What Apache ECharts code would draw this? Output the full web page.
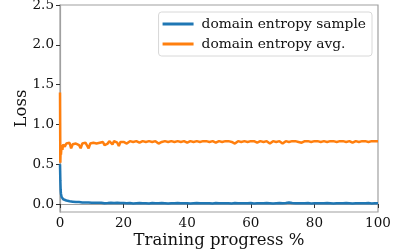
<!DOCTYPE html>
<html><head><meta charset="utf-8">
<script src="https://cdn.jsdelivr.net/npm/echarts@6/dist/echarts.min.js"></script>
<style>html,body{margin:0;padding:0;background:#fff}#c{width:399px;height:249px}</style>
</head><body><div id="c"></div>
<script>
const progress = [0,0.1,0.2,0.3,0.5,0.75,1,1.5,2,2.5,3,3.5,4,4.5,5,5.5,6,6.5,7,7.5,8,8.5,9,9.5,10,10.5,11,11.5,12,12.5,13,13.5,14,14.5,15,15.5,16,16.5,17,17.5,18,18.5,19,19.5,20,
21,22,23,24,25,26,27,28,29,30,
31,32,33,34,35,36,37,38,39,40,
41,42,43,44,45,46,47,48,49,50,
51,52,53,54,55,56,57,58,59,60,
61,62,63,64,65,66,67,68,69,70,
71,72,73,74,75,76,77,78,79,80,
81,82,83,84,85,86,87,88,89,90,
91,92,93,94,95,96,97,98,99,100];
const sampleLoss = [0.50,0.30,0.18,0.13,0.09,0.07,0.06,
0.05,0.045,0.04,0.035,0.03,0.03,0.025,0.025,0.02,0.025,
0.02,0.02,0.015,0.02,0.015,0.02,0.015,0.015,0.02,0.015,
0.012,0.015,0.012,0.015,0.012,0.01,0.015,0.012,0.01,0.015,
0.01,0.012,0.01,0.015,0.01,0.012,0.01,0.012,
0.010,0.012,0.008,0.010,0.012,0.009,0.011,0.008,0.012,0.010,
0.009,0.012,0.010,0.008,0.011,0.010,0.012,0.009,0.010,0.011,
0.008,0.010,0.012,0.009,0.010,0.011,0.010,0.008,0.012,0.010,
0.009,0.011,0.010,0.008,0.012,0.010,0.009,0.011,0.010,0.012,
0.008,0.010,0.011,0.009,0.012,0.010,0.008,0.011,0.012,0.010,
0.014,0.020,0.012,0.010,0.009,0.011,0.010,0.012,0.008,0.010,
0.011,0.009,0.010,0.012,0.010,0.008,0.011,0.010,0.009,0.012,
0.010,0.008,0.011,0.010,0.009,0.010,0.012,0.008,0.010,0.009];
const avgLoss = [1.40,0.52,0.70,0.62,0.74,0.68,0.75,
0.72,0.76,0.74,0.77,0.70,0.75,0.77,0.76,0.78,0.74,
0.70,0.76,0.78,0.77,0.75,0.70,0.76,0.78,0.77,0.79,
0.76,0.78,0.77,0.79,0.78,0.74,0.72,0.76,0.79,0.78,
0.75,0.79,0.78,0.77,0.73,0.78,0.79,0.78,
0.76,0.79,0.78,0.79,0.77,0.79,0.78,0.79,0.78,0.79,
0.76,0.78,0.79,0.78,0.79,0.78,0.79,0.78,0.79,0.77,
0.79,0.78,0.79,0.78,0.79,0.79,0.78,0.79,0.77,0.79,
0.78,0.79,0.79,0.78,0.76,0.79,0.78,0.79,0.78,0.79,
0.79,0.77,0.79,0.78,0.79,0.76,0.79,0.78,0.79,0.76,
0.79,0.78,0.79,0.79,0.78,0.77,0.79,0.79,0.78,0.79,
0.79,0.78,0.79,0.78,0.79,0.79,0.78,0.79,0.79,0.78,
0.79,0.77,0.79,0.78,0.79,0.79,0.78,0.79,0.79,0.79];
const yTicks = [0,0.5,1.0,1.5,2.0,2.5];
const seriesNames = ['domain entropy sample','domain entropy avg.'];

const pair = (xs, ys) => xs.map((x, i) => [x, ys[i]]);
const chart = echarts.init(document.getElementById('c'), null, {renderer: 'canvas'});
const font = 'DejaVu Serif';
const frame = '#a0a0a0';
chart.setOption({
  animation: false,
  textStyle: {fontFamily: font},
  grid: {left: 60, right: 21, top: 5, bottom: 37, show: true, borderColor: frame, borderWidth: 1.2,
    containLabel: false, outerBoundsMode: 'none'},
  legend: {
    orient: 'vertical', right: 27, top: 12,
    data: seriesNames.map(n => ({name: n, icon: 'rect'})),
    itemWidth: 31, itemHeight: 3, itemGap: 6,
    padding: [5, 6, 5, 4],
    borderColor: '#d8d8d8', borderWidth: 1, borderRadius: 3,
    backgroundColor: 'rgba(255,255,255,0.8)',
    textStyle: {fontFamily: font, fontSize: 13.8, color: '#111', padding: [0, 0, 0, 3]}
  },
  xAxis: {
    type: 'value', min: 0, max: 100, interval: 20,
    name: 'Training progress %', nameLocation: 'middle', nameGap: 20, nameMoveOverlap: false,
    nameTextStyle: {fontFamily: font, fontSize: 16.5, color: '#111'},
    axisLine: {show: true, lineStyle: {color: frame, width: 1.2}},
    axisTick: {show: true, length: 4, lineStyle: {color: '#333'}},
    axisLabel: {fontFamily: font, fontSize: 13.5, color: '#111', margin: 4},
    splitLine: {show: false}
  },
  yAxis: {
    type: 'value', min: -0.1, max: 2.5,
    name: 'Loss', nameLocation: 'middle', nameGap: 30, nameMoveOverlap: false,
    nameTextStyle: {fontFamily: font, fontSize: 16.5, color: '#111'},
    axisLine: {show: true, lineStyle: {color: frame, width: 1.2}},
    axisTick: {show: true, length: 4, customValues: yTicks, lineStyle: {color: '#333'}},
    axisLabel: {fontFamily: font, fontSize: 13.5, color: '#111', margin: 6, customValues: yTicks,
      formatter: v => v.toFixed(1)},
    splitLine: {show: false}
  },
  series: [
    {name: seriesNames[0], type: 'line', data: pair(progress, sampleLoss), showSymbol: false,
      lineStyle: {color: '#1f77b4', width: 2.5}, itemStyle: {color: '#1f77b4'}, z: 3},
    {name: seriesNames[1], type: 'line', data: pair(progress, avgLoss), showSymbol: false,
      lineStyle: {color: '#ff7f0e', width: 2.5}, itemStyle: {color: '#ff7f0e'}, z: 2}
  ]
});
</script></body></html>
